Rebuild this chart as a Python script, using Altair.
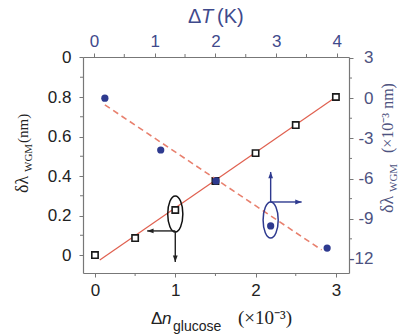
import altair as alt
import pandas as pd

# ---------------- data ----------------
dn_sq = [0.0, 0.5, 1.0, 1.5, 2.0, 2.5, 3.0]          # Δn glucose (×10^-3)
wgm_sq = [0.0, 0.086, 0.228, 0.375, 0.516, 0.658, 0.80]  # δλ (nm)
fit_dn = [0.06, 3.0]
fit_wgm = [-0.025, 0.80]

dT_c = [0.18, 1.10, 2.01, 2.91, 3.84]                 # ΔT (K)
wgm_c = [0.0, -3.87, -6.18, -9.54, -11.19]            # δλ (×10^-3 nm)
fit_dT = [0.18, 3.75]
fit_c = [-0.5, -11.33]

bottom_ticks = [0, 1, 2, 3]
bottom_minor = [0.5, 1.5, 2.5]
left_ticks = [0, 0.2, 0.4, 0.6, 0.8, 1.0]
left_minor = [0.1, 0.3, 0.5, 0.7, 0.9]
top_ticks = [0, 1, 2, 3, 4]
top_minor = [0.5, 1.5, 2.5, 3.5]
right_ticks = [3, 0, -3, -6, -9, -12]
right_minor = [1.5, -1.5, -4.5, -7.5, -10.5]

# annotation anchors (in data units)
annA_ell = {"x": [1.0], "y": [0.208]}
annA_arrow_x = [1.0, 1.0]
annA_arrow_y = [0.122, 0.122]
annA_arrow_x2 = [0.65, 1.0]
annA_arrow_y2 = [0.122, -0.035]
annA_head_shape = ["M0,0L1.6,-0.6L1.6,0.6Z", "M0,0L-0.6,-1.6L0.6,-1.6Z"]

annB_ell = {"x": [2.91], "y": [-9.09]}
annB_arrow_x = [2.91, 2.91]
annB_arrow_y = [-7.75, -7.75]
annB_arrow_x2 = [2.91, 3.42]
annB_arrow_y2 = [-5.51, -7.75]
annB_head_shape = ["M0,0L-0.6,1.6L0.6,1.6Z", "M0,0L-1.6,-0.6L-1.6,0.6Z"]

ELLIPSE = "M0,-1A0.42,1,0,1,1,0,1A0.42,1,0,1,1,0,-1Z"

W, H = 266, 216
SANS = "Liberation Sans"
SERIF = "Liberation Serif"
BLUE = "#2e3a8f"
BLUE_LBL = "#3f4a8c"
RED = "#e0604f"
AXC = "#777777"

# ---------------- scales / axes ----------------
scA_x = alt.Scale(domain=[-0.149, 3.163], nice=False, zero=False)
scA_y = alt.Scale(domain=[-0.091, 1.0025], nice=False, zero=False)
scB_x = alt.Scale(domain=[-0.18, 4.20], nice=False, zero=False)
scB_y = alt.Scale(domain=[-13.05, 3.07], nice=False, zero=False)

common = dict(grid=False, domainColor=AXC, tickColor=AXC, tickSize=4,
              domainWidth=1.2, tickWidth=1, labelFontSize=17, labelFont=SANS,
              title=None, labelFlush=False, labelOverlap=False)

axA_x = alt.Axis(orient="bottom", values=bottom_ticks, format="d",
                 labelColor="#222222", labelPadding=5, **common)
axA_y = alt.Axis(orient="left", values=left_ticks, labelColor="#222222",
                 labelPadding=8,
                 labelExpr="datum.value > 0.95 ? '0' : (datum.value == 0 ? '0' : format(datum.value, '.1f'))",
                 **common)
axB_x = alt.Axis(orient="top", values=top_ticks, format="d",
                 labelColor=BLUE_LBL, labelPadding=3, **common)
axB_y = alt.Axis(orient="right", values=right_ticks, labelColor="#4d5280",
                 labelAlign="right", labelPadding=20,
                 labelExpr="datum.value < 0 ? '-' + abs(datum.value) : '' + datum.value",
                 **common)


def xA(f):
    return alt.X(f, type="quantitative", scale=scA_x, axis=axA_x)


def yA(f):
    return alt.Y(f, type="quantitative", scale=scA_y, axis=axA_y)


def xB(f):
    return alt.X(f, type="quantitative", scale=scB_x, axis=axB_x)


def yB(f):
    return alt.Y(f, type="quantitative", scale=scB_y, axis=axB_y)


def text_piece(txt, x, y, size, font, color, angle=0, italic=False, align="left"):
    kw = dict(fontSize=size, font=font, color=color, align=align, baseline="middle")
    if angle:
        kw["angle"] = angle
    if italic:
        kw["fontStyle"] = "italic"
    return alt.Chart(pd.DataFrame({"lbl": [txt]})).mark_text(**kw).encode(
        text="lbl:N", x=alt.value(x), y=alt.value(y))


# ---------------- group A (Δn / left axis) ----------------
sq_df = pd.DataFrame({"dn": dn_sq, "w": wgm_sq})
fitA_df = pd.DataFrame({"dn": fit_dn, "w": fit_wgm})

lineA = alt.Chart(fitA_df).mark_line(color=RED, strokeWidth=1.2).encode(
    x=xA("dn"), y=yA("w"))
squares = alt.Chart(sq_df).mark_point(shape="square", size=40, filled=False,
                                      stroke="#1a1a1a", strokeWidth=1.6,
                                      fill="white", fillOpacity=1, opacity=1).encode(
    x=xA("dn"), y=yA("w"))

ellA = alt.Chart(pd.DataFrame(annA_ell)).mark_point(
    shape=ELLIPSE, size=1296, filled=False, stroke="#111111", strokeWidth=1.5,
    opacity=1).encode(x=xA("x"), y=yA("y"))
arrA_df = pd.DataFrame({"x": annA_arrow_x, "y": annA_arrow_y,
                        "x2": annA_arrow_x2, "y2": annA_arrow_y2,
                        "s": annA_head_shape})
arrA = alt.Chart(arrA_df).mark_rule(color="#222222", strokeWidth=1.4).encode(
    x=xA("x"), y=yA("y"), x2="x2:Q", y2="y2:Q")
headA = alt.Chart(arrA_df).mark_point(filled=True, size=64, color="#222222",
                                      opacity=1).encode(
    x=xA("x2"), y=yA("y2"), shape=alt.Shape("s:N", scale=None))

minor_left = alt.Chart(pd.DataFrame({"v": left_minor})).mark_rule(
    color=AXC).encode(y=yA("v"), x=alt.value(0), x2=alt.value(-3))
minor_bottom = alt.Chart(pd.DataFrame({"v": bottom_minor})).mark_rule(
    color=AXC).encode(x=xA("v"), y=alt.value(H), y2=alt.value(H + 3))

groupA = alt.layer(minor_left, minor_bottom, lineA, squares, ellA, arrA, headA)

# ---------------- group B (ΔT / right axis) ----------------
c_df = pd.DataFrame({"t": dT_c, "w": wgm_c})
fitB_df = pd.DataFrame({"t": fit_dT, "w": fit_c})

lineB = alt.Chart(fitB_df).mark_line(color="#e8806e", strokeWidth=1.6,
                                     strokeDash=[6, 4]).encode(
    x=xB("t"), y=yB("w"))
circles = alt.Chart(c_df).mark_point(shape="circle", size=52, filled=True,
                                     color=BLUE, opacity=1).encode(
    x=xB("t"), y=yB("w"))

ellB = alt.Chart(pd.DataFrame(annB_ell)).mark_point(
    shape=ELLIPSE, size=1296, filled=False, stroke=BLUE, strokeWidth=1.5,
    opacity=1).encode(x=xB("x"), y=yB("y"))
arrB_df = pd.DataFrame({"x": annB_arrow_x, "y": annB_arrow_y,
                        "x2": annB_arrow_x2, "y2": annB_arrow_y2,
                        "s": annB_head_shape})
arrB = alt.Chart(arrB_df).mark_rule(color=BLUE, strokeWidth=1.4).encode(
    x=xB("x"), y=yB("y"), x2="x2:Q", y2="y2:Q")
headB = alt.Chart(arrB_df).mark_point(filled=True, size=64, color=BLUE,
                                      opacity=1).encode(
    x=xB("x2"), y=yB("y2"), shape=alt.Shape("s:N", scale=None))

minor_right = alt.Chart(pd.DataFrame({"v": right_minor})).mark_rule(
    color=AXC).encode(y=yB("v"), x=alt.value(W), x2=alt.value(W + 3))
minor_top = alt.Chart(pd.DataFrame({"v": top_minor})).mark_rule(
    color=AXC).encode(x=xB("v"), y=alt.value(0), y2=alt.value(-3))

# ---------------- titles (text pieces) ----------------
titles = [
    # top title
    text_piece("Δ", 105, -40, 20, SANS, BLUE_LBL),
    text_piece("T", 118, -40, 20, SANS, BLUE_LBL, italic=True),
    text_piece("(K)", 134, -40, 20, SANS, BLUE_LBL),
    # bottom title
    text_piece("Δ", 68, 262, 17, SANS, "#222222"),
    text_piece("n", 79, 262, 17, SANS, "#222222", italic=True),
    text_piece("glucose", 90, 270, 14, SANS, "#222222"),
    text_piece("(×10⁻³)", 155, 261, 19, SERIF, "#222222"),
    # left title
    text_piece("δλ", -60, 136, 18, SERIF, "#222222", angle=270),
    text_piece("WGM", -54, 115, 11, SERIF, "#222222", angle=270),
    text_piece("(nm)", -60, 86, 15, SERIF, "#222222", angle=270),
    # right title
    text_piece("δλ", 305, 156, 18, SERIF, "#4d5280", angle=270),
    text_piece("WGM", 311, 135, 11, SERIF, "#4d5280", angle=270),
    text_piece("(×10⁻³ nm)", 305, 96, 16, SERIF, "#4d5280", angle=270),
]

groupB = alt.layer(minor_right, minor_top, lineB, circles, ellB, arrB, headB, *titles)

chart = alt.layer(groupA, groupB).resolve_scale(
    x="independent", y="independent"
).properties(
    width=W, height=H, autosize="none",
    padding={"left": 83, "top": 57, "right": 50, "bottom": 63},
    background="white",
).configure_view(stroke=None)

chart.save("out.html", embed_options={"renderer": "svg", "actions": False})
